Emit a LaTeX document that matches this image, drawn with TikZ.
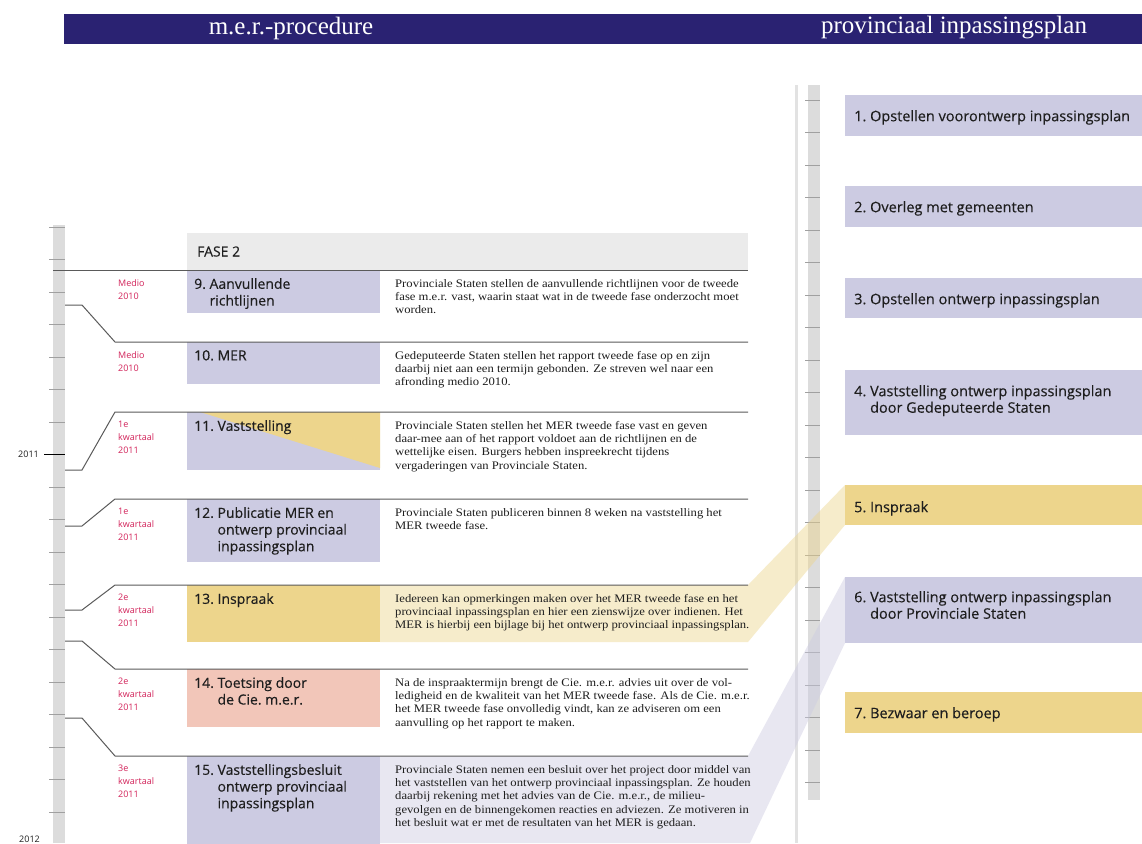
\documentclass[tikz,border=0pt]{standalone}
\usepackage{fontspec}
\setmainfont{Liberation Serif}
\newfontfamily\sansf{Open Sans}
\newfontfamily\ttlfont[FakeBold=0.3]{Open Sans}
\newfontfamily\descfont[FakeStretch=1.1]{Liberation Serif}
\usetikzlibrary{calc}
\definecolor{navy}{HTML}{2A2272}
\definecolor{lav}{HTML}{CCCBE2}
\definecolor{ylw}{HTML}{EDD58C}
\definecolor{salmon}{HTML}{F2C6B9}
\definecolor{fasegray}{HTML}{EBEBEB}
\definecolor{datered}{HTML}{D2235A}
\definecolor{rulergray}{HTML}{DCDCDC}
\definecolor{tickgray}{HTML}{A0A0A0}
\definecolor{linegray}{HTML}{5A5A5A}
\definecolor{sepgray}{HTML}{E2E2E2}
\definecolor{txt}{HTML}{1E1E1E}
\begin{document}
\begin{tikzpicture}[x=1pt,y=-1pt,
  box/.style={anchor=north west, inner sep=0pt, outer sep=0pt, rectangle},
  ttl/.style={anchor=north west, inner sep=0pt, font=\ttlfont\fontsize{14}{16.7}\selectfont, text=txt, align=left},
  rttl/.style={anchor=north west, inner sep=0pt, font=\ttlfont\fontsize{14.5}{16.5}\selectfont, text=txt, align=left},
  desc/.style={anchor=north west, inner sep=0pt, font=\descfont\fontsize{11.5}{13.3}\selectfont, text=txt, align=left},
  date/.style={anchor=north west, inner sep=0pt, font=\sansf\fontsize{9}{13}\selectfont, text=datered, align=left},
  hdr/.style={inner sep=0pt, font=\fontsize{25}{25}\selectfont, text=white},
  rowline/.style={draw=linegray, line width=1pt},
  beamY/.style={fill=ylw, fill opacity=0.45},
  beamL/.style={fill=lav, fill opacity=0.45},
  yearlbl/.style={inner sep=0pt, font=\sansf\fontsize{9}{9}\selectfont, text=txt}]
\useasboundingbox (0,0) rectangle (1142,843);
\fill[white] (0,0) rectangle (1142,843);

% header bar
\node[box, fill=navy, minimum width=1078, minimum height=30] (bar) at (64,14) {};
\node[hdr] (h1) at (291,28) {m.e.r.-procedure};
\node[hdr] (h2) at (954,28) {provinciaal inpassingsplan};

% left ruler
\node[box, fill=rulergray, minimum width=12, minimum height=618] (lruler) at (53,225) {};
\foreach \k in {0,...,19}{
  \draw[tickgray, line width=0.8pt] (49,{227+32.5*\k}) -- (65,{227+32.5*\k});
}
\coordinate (t2011a) at (44,454.5);
\coordinate (t2011b) at (65,454.5);
\draw[black, line width=1pt] (t2011a) -- (t2011b);
\node[yearlbl, anchor=east] (y2011) at (39,454.5) {2011};
\node[yearlbl, anchor=base east] (y2012) at (40,842) {2012};

% right separator and ruler
\fill[sepgray] (794.5,85) rectangle (797.5,843);
\node[box, fill=rulergray, minimum width=12, minimum height=715] (rruler) at (808,85) {};
\foreach \k in {0,...,21}{
  \draw[tickgray, line width=0.8pt] (805,{100+32.5*\k}) -- (820,{100+32.5*\k});
}

% backgrounds and beams
\node[box, fill=fasegray, minimum width=561, minimum height=37] (fase) at (187,233) {};
\node[ttl, anchor=west] (fasetxt) at (197,251.5) {FASE 2};

\path[beamY] (380,585) -- (748,585) -- (845,485) -- (845,525) -- (748,642) -- (380,642) -- cycle;
\path[beamL] (380,756) -- (748,756) -- (845,577) -- (845,643) -- (750,843) -- (380,843) -- cycle;

% left title boxes
\node[box, fill=lav, minimum width=193, minimum height=43] (b9) at (187,270) {};
\node[box, fill=lav, minimum width=193, minimum height=42] (b10) at (187,342) {};
\node[box, fill=lav, minimum width=193, minimum height=58] (b11) at (187,412) {};
\fill[ylw] ($(b11.north west)+(13,0)$) -- (b11.north east) -- ($(b11.south east)+(0,-2)$) -- cycle;
\node[box, fill=lav, minimum width=193, minimum height=63] (b12) at (187,499) {};
\node[box, fill=ylw, minimum width=193, minimum height=57] (b13) at (187,585) {};
\node[box, fill=salmon, minimum width=193, minimum height=58] (b14) at (187,669) {};
\node[box, fill=lav, minimum width=193, minimum height=90] (b15) at (187,756) {};

% right boxes
\node[box, fill=lav, minimum width=300, minimum height=41] (r1) at (845,95) {};
\node[box, fill=lav, minimum width=300, minimum height=41] (r2) at (845,186) {};
\node[box, fill=lav, minimum width=300, minimum height=40] (r3) at (845,278) {};
\node[box, fill=lav, minimum width=300, minimum height=65] (r4) at (845,370) {};
\node[box, fill=ylw, minimum width=300, minimum height=40] (r5) at (845,485) {};
\node[box, fill=lav, minimum width=300, minimum height=66] (r6) at (845,577) {};
\node[box, fill=ylw, minimum width=300, minimum height=41] (r7) at (845,692) {};

% row separator connectors
\coordinate (s9a) at (53,270);  \coordinate (s9b) at (748,270);
\draw[rowline] (s9a) -- (s9b);
\coordinate (s10a) at (65,305); \coordinate (s10b) at (82,305); \coordinate (s10c) at (115,342); \coordinate (s10d) at (748,342);
\draw[rowline] (s10a) -- (s10b) -- (s10c) -- (s10d);
\coordinate (s11a) at (65,470); \coordinate (s11b) at (82,470); \coordinate (s11c) at (115,412); \coordinate (s11d) at (748,412);
\draw[rowline] (s11a) -- (s11b) -- (s11c) -- (s11d);
\coordinate (s12a) at (65,526); \coordinate (s12b) at (82,526); \coordinate (s12c) at (115,499); \coordinate (s12d) at (748,499);
\draw[rowline] (s12a) -- (s12b) -- (s12c) -- (s12d);
\coordinate (s13a) at (65,610); \coordinate (s13b) at (82,610); \coordinate (s13c) at (115,585); \coordinate (s13d) at (748,585);
\draw[rowline] (s13a) -- (s13b) -- (s13c) -- (s13d);
\coordinate (s14a) at (65,641); \coordinate (s14b) at (82,641); \coordinate (s14c) at (115,669); \coordinate (s14d) at (748,669);
\draw[rowline] (s14a) -- (s14b) -- (s14c) -- (s14d);
\coordinate (s15a) at (65,718); \coordinate (s15b) at (82,718); \coordinate (s15c) at (115,756); \coordinate (s15d) at (748,756);
\draw[rowline] (s15a) -- (s15b) -- (s15c) -- (s15d);

% dates
\node[date] (d9) at (118,279) {Medio\\2010};
\node[date] (d10) at (118,351) {Medio\\2010};
\node[date] (d11) at (118,421) {1e\\kwartaal\\2011};
\node[date] (d12) at (118,508) {1e\\kwartaal\\2011};
\node[date] (d13) at (118,594) {2e\\kwartaal\\2011};
\node[date] (d14) at (118,678) {2e\\kwartaal\\2011};
\node[date] (d15) at (118,765) {3e\\kwartaal\\2011};

% titles
\node[ttl] (n9) at (194,278) {9.\ Aanvullende\\\phantom{9.\ }richtlijnen};
\node[ttl] (n10) at (194,350) {10.\ MER};
\node[ttl] (n11) at (194,420) {11.\ Vaststelling};
\node[ttl] (n12) at (194,507) {12.\ Publicatie MER en\\\phantom{12.\ }ontwerp provinciaal\\\phantom{12.\ }inpassingsplan};
\node[ttl] (n13) at (194,593) {13.\ Inspraak};
\node[ttl] (n14) at (194,677) {14.\ Toetsing door\\\phantom{14.\ }de Cie.\ m.e.r.};
\node[ttl] (n15) at (194,764) {15.\ Vaststellingsbesluit\\\phantom{15.\ }ontwerp provinciaal\\\phantom{15.\ }inpassingsplan};

% descriptions
\node[desc] (e9) at (395,279) {Provinciale Staten stellen de aanvullende richtlijnen voor de tweede\\fase m.e.r. vast, waarin staat wat in de tweede fase onderzocht moet\\worden.};
\node[desc] (e10) at (395,351) {Gedeputeerde Staten stellen het rapport tweede fase op en zijn\\daarbij niet aan een termijn gebonden. Ze streven wel naar een\\afronding medio 2010.};
\node[desc] (e11) at (395,421) {Provinciale Staten stellen het MER tweede fase vast en geven\\daar-mee aan of het rapport voldoet aan de richtlijnen en de\\wettelijke eisen. Burgers hebben inspreekrecht tijdens\\vergaderingen van Provinciale Staten.};
\node[desc] (e12) at (395,508) {Provinciale Staten publiceren binnen 8 weken na vaststelling het\\MER tweede fase.};
\node[desc] (e13) at (395,594) {Iedereen kan opmerkingen maken over het MER tweede fase en het\\provinciaal inpassingsplan en hier een zienswijze over indienen. Het\\MER is hierbij een bijlage bij het ontwerp provinciaal inpassingsplan.};
\node[desc] (e14) at (395,678) {Na de inspraaktermijn brengt de Cie. m.e.r. advies uit over de vol-\\ledigheid en de kwaliteit van het MER tweede fase. Als de Cie. m.e.r.\\het MER tweede fase onvolledig vindt, kan ze adviseren om een\\aanvulling op het rapport te maken.};
\node[desc] (e15) at (395,765) {Provinciale Staten nemen een besluit over het project door middel van\\het vaststellen van het ontwerp provinciaal inpassingsplan. Ze houden\\daarbij rekening met het advies van de Cie. m.e.r., de milieu-\\gevolgen en de binnengekomen reacties en adviezen. Ze motiveren in\\het besluit wat er met de resultaten van het MER is gedaan.};

% right titles
\node[rttl] (p1) at (854,110) {1.\ Opstellen voorontwerp inpassingsplan};
\node[rttl] (p2) at (854,201) {2.\ Overleg met gemeenten};
\node[rttl] (p3) at (854,293) {3.\ Opstellen ontwerp inpassingsplan};
\node[rttl] (p4) at (854,385) {4.\ Vaststelling ontwerp inpassingsplan\\\phantom{4.\ }door Gedeputeerde Staten};
\node[rttl] (p5) at (854,501) {5.\ Inspraak};
\node[rttl] (p6) at (854,591) {6.\ Vaststelling ontwerp inpassingsplan\\\phantom{6.\ }door Provinciale Staten};
\node[rttl] (p7) at (854,707) {7.\ Bezwaar en beroep};
\end{tikzpicture}
\end{document}
